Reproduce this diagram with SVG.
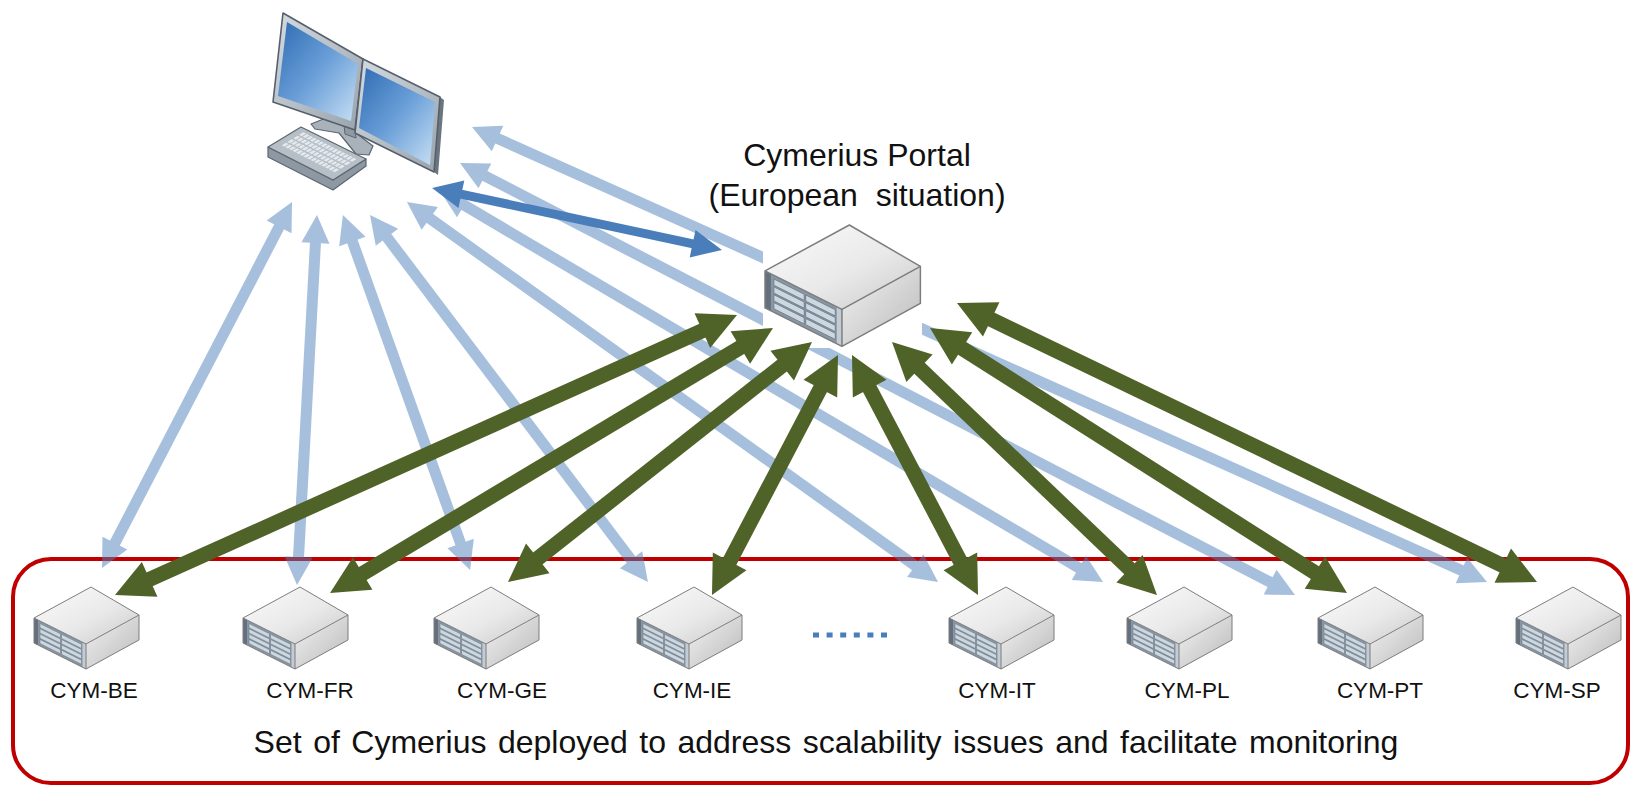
<svg xmlns="http://www.w3.org/2000/svg" xmlns:xlink="http://www.w3.org/1999/xlink" width="1633" height="785" viewBox="0 0 1633 785">
  <style>
    .txt { font-family: "Liberation Sans", Arial, sans-serif; fill: #111; }
    .node-label { font-size: 22.5px; text-anchor: middle; }
    .big-label { font-size: 32px; text-anchor: middle; }
    .to-desk line { stroke: #4f81bd; stroke-width: 11; marker-start: url(#headLight); marker-end: url(#headLight); }
    .to-portal line { stroke: #4f6228; stroke-width: 15; marker-start: url(#headGreen); marker-end: url(#headGreen); }
    .edge { fill: none; stroke: #7d7d7d; stroke-width: 1; stroke-linejoin: round; }
  </style>
  <defs>
    <marker id="headLight" markerUnits="userSpaceOnUse" viewBox="0 -14 28 28" markerWidth="28" markerHeight="28" refX="10" refY="0" orient="auto-start-reverse" overflow="visible">
      <path d="M0,-14 L28,0 L0,14 z" fill="#4f81bd"/>
    </marker>
    <marker id="headBlue" markerUnits="userSpaceOnUse" viewBox="0 -14 30 28" markerWidth="30" markerHeight="28" refX="10" refY="0" orient="auto-start-reverse" overflow="visible">
      <path d="M0,-14 L30,0 L0,14 z" fill="#4a7ebb"/>
    </marker>
    <marker id="headGreen" markerUnits="userSpaceOnUse" viewBox="0 -19 38 38" markerWidth="38" markerHeight="38" refX="13" refY="0" orient="auto-start-reverse" overflow="visible">
      <path d="M0,-19 L38,0 L0,19 z" fill="#4f6228"/>
    </marker>

    <linearGradient id="srvTop" x1="0" y1="0" x2="1" y2="1">
      <stop offset="0" stop-color="#fbfbfb"/>
      <stop offset="0.55" stop-color="#e9e9e9"/>
      <stop offset="1" stop-color="#c9c9c9"/>
    </linearGradient>
    <linearGradient id="srvSide" x1="0" y1="0" x2="1" y2="1">
      <stop offset="0" stop-color="#f3f3f3"/>
      <stop offset="1" stop-color="#b9b9b9"/>
    </linearGradient>
    <linearGradient id="screen" x1="0" y1="0" x2="1" y2="1">
      <stop offset="0" stop-color="#2f6cb3"/>
      <stop offset="0.5" stop-color="#6a9fd8"/>
      <stop offset="1" stop-color="#c8e0f4"/>
    </linearGradient>
    <linearGradient id="bezel" x1="0" y1="0" x2="1" y2="1">
      <stop offset="0" stop-color="#d5dbe1"/>
      <stop offset="1" stop-color="#99a3ad"/>
    </linearGradient>

    <!-- rack server, 105 x 82 -->
    <g id="srv">
      <polygon points="52,57 105,28 105,53 52,82" fill="url(#srvSide)"/>
      <polygon points="57,0 105,28 52,57 0,31" fill="url(#srvTop)"/>
      <g transform="matrix(1,0.5,0,1,0,31)">
        <rect x="0" y="0" width="52" height="25" fill="#8996a3"/>
        <rect x="0" y="0" width="4" height="25" fill="#64717d"/>
        <rect x="48.5" y="0" width="3.5" height="25" fill="#c3ccd4"/>
        <g fill="#cdd7e0" stroke="#6b7985" stroke-width="0.5">
          <rect x="6" y="2.5" width="20.5" height="4.2"/>
          <rect x="6" y="7.8" width="20.5" height="4.2"/>
          <rect x="6" y="13.1" width="20.5" height="4.2"/>
          <rect x="6" y="18.4" width="20.5" height="4.2"/>
          <rect x="27.5" y="2.5" width="20" height="4.2"/>
          <rect x="27.5" y="7.8" width="20" height="4.2"/>
          <rect x="27.5" y="13.1" width="20" height="4.2"/>
          <rect x="27.5" y="18.4" width="20" height="4.2"/>
        </g>
      </g>
      <polygon class="edge" points="57,0 105,28 105,53 52,82 0,56 0,31"/>
      <polyline class="edge" points="0,31 52,57 105,28"/>
      <line class="edge" x1="52" y1="57" x2="52" y2="82"/>
    </g>
  </defs>

  <!-- enclosure of the national instances -->
  <rect id="cluster" x="13" y="559" width="1615" height="224" rx="38" fill="none" stroke="#c00000" stroke-width="4"/>

  <g id="connectors">
    <!-- national instance to workstation links -->
    <g class="to-desk" opacity="0.5">
      <line x1="283.7" y1="218" x2="110.3" y2="552"/>
      <line x1="316" y1="233" x2="298" y2="567"/>
      <line x1="349" y1="232" x2="464" y2="553"/>
      <line x1="380.9" y1="229.3" x2="637.1" y2="567.7"/>
      <line x1="421.6" y1="212.5" x2="923.4" y2="571.5"/>
      <line x1="455.5" y1="200.1" x2="1087.5" y2="572.9"/>
      <line x1="476" y1="171.3" x2="1279" y2="586.7"/>
      <line x1="488.4" y1="134.4" x2="1470.6" y2="574.6"/>
    </g>
    <!-- workstation to portal -->
    <line x1="451.6" y1="192.2" x2="702.4" y2="245.8" stroke="#4a7ebb" stroke-width="9" marker-start="url(#headBlue)" marker-end="url(#headBlue)"/>
  </g>

  <!-- portal server -->
  <g id="portal">
    <rect x="763" y="223" width="159" height="125" fill="#fff"/>
    <use xlink:href="#srv" href="#srv" transform="translate(765,225) scale(1.48)"/>
    <text class="txt big-label" x="857" y="166">Cymerius Portal</text>
    <text class="txt big-label" x="857" y="206" xml:space="preserve">(European  situation)</text>
  </g>

  <g id="connectors-portal" class="to-portal">
    <line x1="137.8" y1="584.7" x2="714.2" y2="325.3"/>
    <line x1="351.5" y1="580.2" x2="751.5" y2="340.8"/>
    <line x1="527.6" y1="566.5" x2="792.4" y2="357.5"/>
    <line x1="723.6" y1="572.9" x2="826.4" y2="377.1"/>
    <line x1="966.4" y1="572.9" x2="863.6" y2="377.1"/>
    <line x1="1138.9" y1="577.7" x2="910.1" y2="359.3"/>
    <line x1="1325.9" y1="579.6" x2="951.1" y2="341.4"/>
    <line x1="1514.5" y1="571.2" x2="979.5" y2="313.8"/>
  </g>

  <!-- workstation with two screens -->
  <g id="workstation">
    <polygon points="311,124 326,118 348,127 373,146 369,155 356,154 339,133 315,129" fill="#a9b2bb" stroke="#5c6670" stroke-width="1.2" stroke-linejoin="round"/>
    <polygon points="344,125 355,129 356,138 345,134" fill="#8f99a3" stroke="#5c6670" stroke-width="1"/>
    <polygon points="283,13 363,59 355,130 273,102" fill="url(#bezel)" stroke="#55606c" stroke-width="1.6" stroke-linejoin="round"/>
    <polygon points="287,22 358,64 351,121 278,96" fill="url(#screen)"/>
    <polygon points="440,97 444,100 438,175 434,172" fill="#6b7580"/>
    <polygon points="363,59 440,97 434,172 355,133" fill="url(#bezel)" stroke="#55606c" stroke-width="1.6" stroke-linejoin="round"/>
    <polygon points="366,68 435,102 430,165 359,128" fill="url(#screen)"/>
    <polygon points="268,147 333,180 366,159 366,166 333,190 268,157" fill="#8e98a2" stroke="#5c6670" stroke-width="1.2" stroke-linejoin="round"/>
    <polygon points="268,147 301,127 366,159 333,180" fill="#b6bec6" stroke="#5c6670" stroke-width="1.2" stroke-linejoin="round"/>
    <g transform="matrix(1,0.508,-1.65,1,268,147)" stroke="#e4e9ee" stroke-width="2.6" stroke-dasharray="2.6 1">
      <line x1="6" y1="-16.5" x2="60" y2="-16.5"/>
      <line x1="6" y1="-13" x2="60" y2="-13"/>
      <line x1="6" y1="-9.5" x2="60" y2="-9.5"/>
      <line x1="6" y1="-6" x2="60" y2="-6"/>
    </g>
  </g>

  <!-- national instances -->
  <g id="cym-be"><use xlink:href="#srv" href="#srv" x="34" y="587"/><text class="txt node-label" x="94" y="698">CYM-BE</text></g>
  <g id="cym-fr"><use xlink:href="#srv" href="#srv" x="243" y="587"/><text class="txt node-label" x="310" y="698">CYM-FR</text></g>
  <g id="cym-ge"><use xlink:href="#srv" href="#srv" x="434" y="587"/><text class="txt node-label" x="502" y="698">CYM-GE</text></g>
  <g id="cym-ie"><use xlink:href="#srv" href="#srv" x="637" y="587"/><text class="txt node-label" x="692" y="698">CYM-IE</text></g>
  <g id="cym-it"><use xlink:href="#srv" href="#srv" x="949" y="587"/><text class="txt node-label" x="997" y="698">CYM-IT</text></g>
  <g id="cym-pl"><use xlink:href="#srv" href="#srv" x="1127" y="587"/><text class="txt node-label" x="1187" y="698">CYM-PL</text></g>
  <g id="cym-pt"><use xlink:href="#srv" href="#srv" x="1318" y="587"/><text class="txt node-label" x="1380" y="698">CYM-PT</text></g>
  <g id="cym-sp"><use xlink:href="#srv" href="#srv" x="1516" y="587"/><text class="txt node-label" x="1557" y="698">CYM-SP</text></g>

  <!-- ellipsis between instances -->
  <g id="more" fill="#4a7ebb">
    <rect x="813" y="632.5" width="6" height="5"/>
    <rect x="826.6" y="632.5" width="6" height="5"/>
    <rect x="840.2" y="632.5" width="6" height="5"/>
    <rect x="853.8" y="632.5" width="6" height="5"/>
    <rect x="867.4" y="632.5" width="6" height="5"/>
    <rect x="881" y="632.5" width="6" height="5"/>
  </g>

  <text class="txt big-label" x="826" y="753" style="word-spacing:2.6px">Set of Cymerius deployed to address scalability issues and facilitate monitoring</text>
</svg>
